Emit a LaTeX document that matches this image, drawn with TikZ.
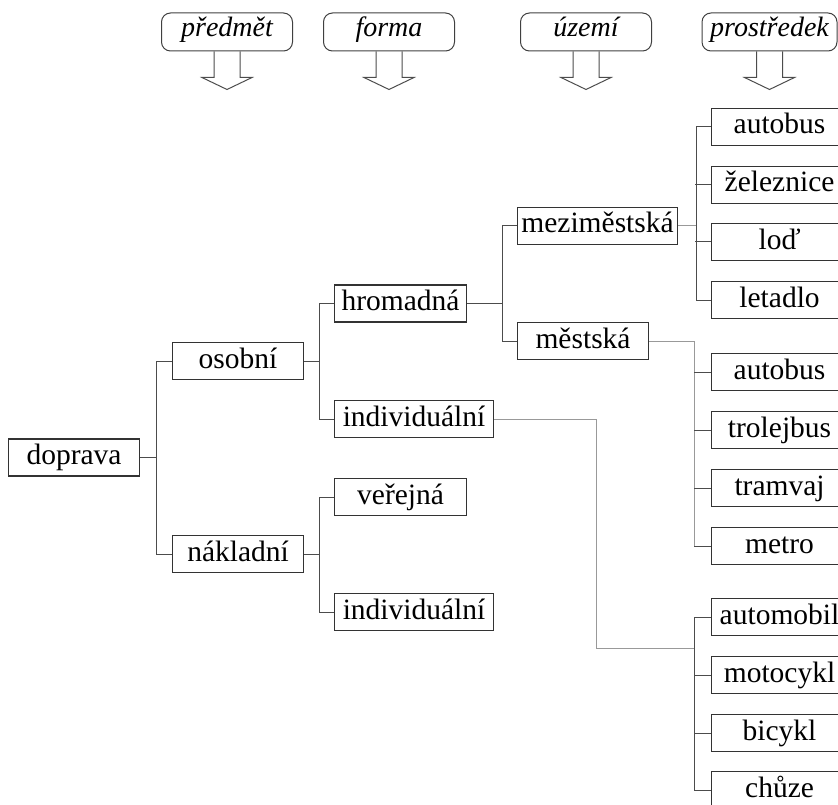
\documentclass[tikz,border=0pt]{standalone}
\usepackage{fontspec}
\setmainfont{Liberation Serif}
\usetikzlibrary{positioning}

\begin{document}
\begin{tikzpicture}[x=1pt, y=-1pt]
\tikzstyle{box}=[rectangle, draw=black!80, line width=1.1pt, minimum width=131pt, minimum height=37pt, inner xsep=3pt, inner ysep=0pt, text height=20pt, text depth=6pt, font=\fontsize{29.5}{34}\selectfont]
\tikzstyle{leaf}=[box, minimum width=136pt, anchor=west]
\tikzstyle{head}=[rectangle, rounded corners=9pt, draw=black!75, line width=1pt, minimum width=131pt, minimum height=38pt, inner ysep=0pt, text height=17pt, text depth=7pt, font=\fontsize{28}{32}\selectfont\itshape]
\tikzstyle{hollow}=[draw=black!70, line width=1pt]
\tikzstyle{connect}=[draw=black!70, line width=1pt]
\tikzstyle{faint}=[draw=black!40, line width=1pt]
\clip (0,0) rectangle (838,805);
    % headers
    \node[head] (pred) at (227,32) {předmět};
    \node[head] (form) at (389,32) {forma};
    \node[head] (uzem) at (586,32) {území};
    \node[head, minimum width=135pt] (pros) at (769.5,32) {prostředek};
    \foreach \h in {pred,form,uzem,pros}
        \draw[hollow] (\h.south) ++(-13,0) -- ++(0,26) -- ++(-12,0) -- ++(25,12)
              -- ++(25,-12) -- ++(-12,0) -- ++(0,-26);
    % tree
    \node[box, anchor=west] (dop) at (8,457.5) {doprava};
    \node[box, anchor=west] (oso) at (172,361) {osobní};
    \node[box, anchor=west] (nak) at (172,554) {nákladní};
    \node[box, anchor=west, minimum width=132pt] (hro) at (334,303.5) {hromadná};
    \node[box, anchor=west, minimum width=159pt] (ind) at (334,419) {individuální};
    \node[box, anchor=west, minimum width=132pt] (ver) at (334,497) {veřejná};
    \node[box, anchor=west, minimum width=159pt] (indn) at (334,612) {individuální};
    \node[box, anchor=west, minimum width=160pt] (mez) at (517,226) {meziměstská};
    \node[box, anchor=west] (mes) at (517,341) {městská};
    \node[leaf] (aut) at (711,127) {autobus};
    \node[leaf] (zel) at (711,185) {železnice};
    \node[leaf] (lod) at (711,242) {loď};
    \node[leaf] (let) at (711,300) {letadlo};
    \node[leaf] (autm) at (711,372) {autobus};
    \node[leaf] (tro) at (711,430) {trolejbus};
    \node[leaf] (tra) at (711,488) {tramvaj};
    \node[leaf] (met) at (711,546) {metro};
    \node[leaf] (amo) at (711,617) {automobil};
    \node[leaf] (mot) at (711,675) {motocykl};
    \node[leaf] (bic) at (711,733) {bicykl};
    \node[leaf] (chu) at (711,790) {chůze};
    % connectors
    \draw[connect] (dop.east) -- +(16,0) |- (oso.west);
    \draw[connect] (dop.east) -- +(16,0) |- (nak.west);
    \draw[connect] (oso.east) -- +(15,0) |- (hro.west);
    \draw[connect] (oso.east) -- +(15,0) |- (ind.west);
    \draw[connect] (nak.east) -- +(15,0) |- (ver.west);
    \draw[connect] (nak.east) -- +(15,0) |- (indn.west);
    \draw[connect] (hro.east) -- +(35,0) |- (mez.west);
    \draw[connect] (hro.east) -- +(35,0) |- (mes.west);
    \draw[faint] (mez.east) -- +(18,0);
    \foreach \n in {aut,let}
        \draw[connect] (mez.east) ++(18,0) |- (\n.west);
    \foreach \n in {zel,lod}
        \draw[connect] (\n.west) -- +(-16,0);
    \draw[faint] (mes.east) -| ([xshift=-17pt]met.west);
    \draw[connect] ([xshift=-17pt]met.west) -- (met.west);
    \foreach \n in {autm,tro,tra}
        \draw[connect] (\n.west) -- +(-17,0);
    \coordinate (ifork) at (694,648);
    \draw[faint] (ind.east) -- ++(102,0) |- (ifork);
    \draw[connect] ([xshift=-17pt]amo.west) -- ([xshift=-17pt]chu.west);
    \foreach \n in {amo,mot,bic,chu}
        \draw[connect] (\n.west) -- +(-17,0);
\end{tikzpicture}
\end{document}
